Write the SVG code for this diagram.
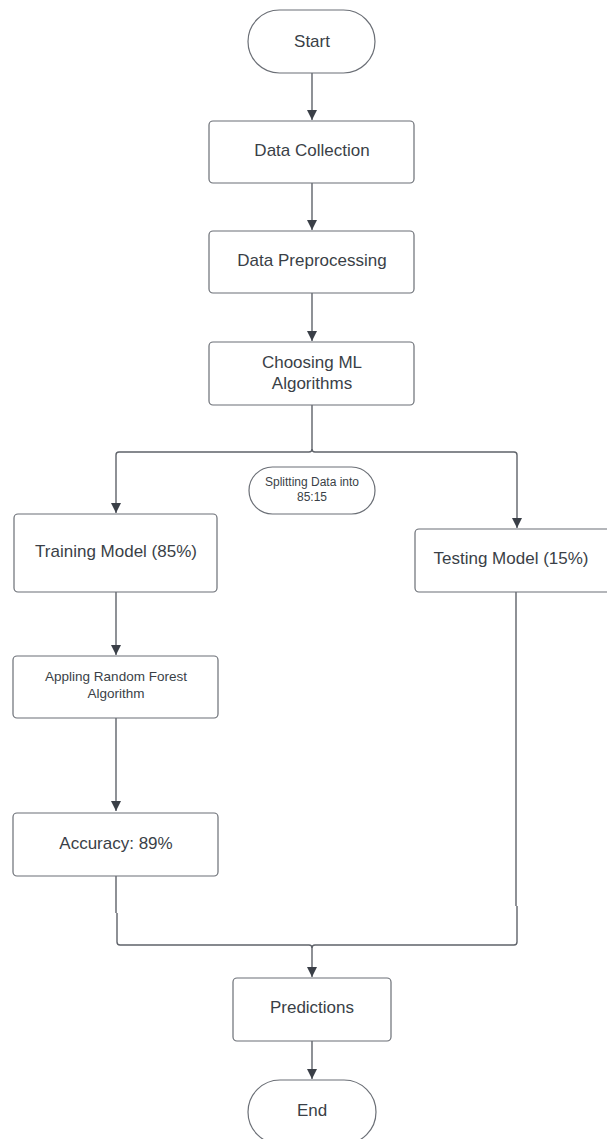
<svg xmlns="http://www.w3.org/2000/svg" width="607" height="1139" viewBox="0 0 607 1139">
<style>
.box{fill:#fff;stroke:#6b6f76;stroke-width:1.2}
.t{font-family:"Liberation Sans",Arial,sans-serif;fill:#3a3f47;text-anchor:middle}
.m{font-size:17px}
.s{font-size:13.5px}
.xs{font-size:12px}
.c{fill:none;stroke:#5f636a;stroke-width:1.4}
</style>
<defs>
<marker id="ah" markerUnits="userSpaceOnUse" markerWidth="10" markerHeight="12" viewBox="0 0 10 12" refX="10" refY="5" orient="auto">
<path d="M0,0 L10,5 L0,10 Z" fill="#3a3f47"/>
</marker>
</defs>
<rect width="607" height="1139" fill="#fff"/>
<g id="connectors">
<path class="c" d="M312,73 V120" marker-end="url(#ah)"/>
<path class="c" d="M312,183 V230" marker-end="url(#ah)"/>
<path class="c" d="M312,293 V341" marker-end="url(#ah)"/>
<path class="c" d="M312,405 V449 Q312,452 309,452 H119 Q116,452 116,455 V513" marker-end="url(#ah)"/>
<path class="c" d="M312,449 Q312,452 315,452 H514 Q517,452 517,455 V528" marker-end="url(#ah)"/>
<path class="c" d="M116,592 V655" marker-end="url(#ah)"/>
<path class="c" d="M116,718 V811" marker-end="url(#ah)"/>
<path class="c" d="M116,876 V913 M117,913 V942 Q117,945 120,945 H309 Q312,945 312,948 V977" marker-end="url(#ah)"/>
<path class="c" d="M516,592 V906 M517,906 V942 Q517,945 514,945 H315 Q312,945 312,948"/>
<path class="c" d="M312,1041 V1079" marker-end="url(#ah)"/>
</g>
<g id="start"><rect class="box" x="248" y="10" width="127" height="63" rx="31.5"/><text class="t m" x="312" y="47">Start</text></g>
<g id="data-collection"><rect class="box" x="209" y="121" width="205" height="62" rx="4"/><text class="t m" x="312" y="156">Data Collection</text></g>
<g id="data-preprocessing"><rect class="box" x="209" y="231" width="205" height="62" rx="4"/><text class="t m" x="312" y="266">Data Preprocessing</text></g>
<g id="choosing-ml"><rect class="box" x="209" y="342" width="205" height="63" rx="4"/><text class="t m" x="312" y="368">Choosing ML</text><text class="t m" x="312" y="389">Algorithms</text></g>
<g id="splitting"><rect class="box" x="249" y="467" width="126" height="47" rx="23.5"/><text class="t xs" x="312" y="486">Splitting Data into</text><text class="t xs" x="312" y="501">85:15</text></g>
<g id="training"><rect class="box" x="14" y="514" width="203" height="78" rx="4"/><text class="t m" x="116" y="557">Training Model (85%)</text></g>
<g id="testing"><rect class="box" x="415" y="529" width="196" height="63" rx="4"/><text class="t m" x="511" y="564">Testing Model (15%)</text></g>
<g id="random-forest"><rect class="box" x="13" y="656" width="205" height="62" rx="4"/><text class="t s" x="116" y="681">Appling Random Forest</text><text class="t s" x="116" y="698">Algorithm</text></g>
<g id="accuracy"><rect class="box" x="13" y="813" width="205" height="63" rx="4"/><text class="t m" x="116" y="849">Accuracy: 89%</text></g>
<g id="predictions"><rect class="box" x="233" y="978" width="158" height="63" rx="4"/><text class="t m" x="312" y="1013">Predictions</text></g>
<g id="end"><rect class="box" x="248" y="1080" width="128" height="64" rx="32"/><text class="t m" x="312" y="1116">End</text></g>
</svg>
